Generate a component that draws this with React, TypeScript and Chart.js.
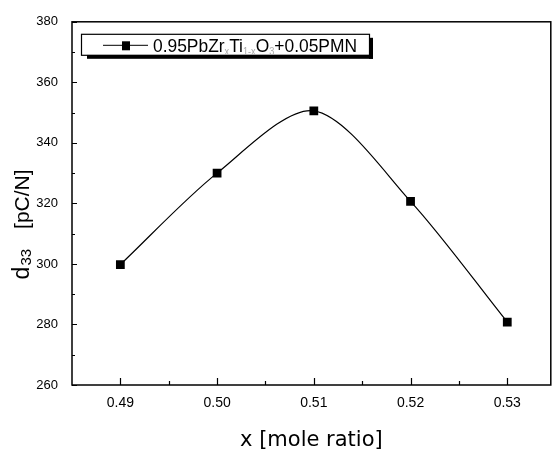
import React, { useEffect, useRef } from "react";
import { Chart, registerables } from "chart.js";

Chart.register(...registerables);

// ---- data ----
const xValues = [0.49, 0.5, 0.51, 0.52, 0.53];
const d33Values = [299.8, 330, 350.6, 320.7, 280.8];
const xTickValues = [0.49, 0.5, 0.51, 0.52, 0.53];
const xMinorTicks = [0.495, 0.505, 0.515, 0.525];
const yTickValues = [260, 280, 300, 320, 340, 360, 380];
const yMinorTicks = [270, 290, 310, 330, 350, 370];
const legendParts = [
  { t: "0.95PbZr", sub: false },
  { t: "x", sub: true },
  { t: "Ti", sub: false },
  { t: "1-x", sub: true },
  { t: "O", sub: false },
  { t: "3", sub: true },
  { t: "+0.05PMN", sub: false },
];
const xTitle = "x [mole ratio]";
const yTitleMain = "d";
const yTitleSub = "33";
const yTitleUnit = "[pC/N]";

const NARROW = "'Liberation Sans Narrow', 'Liberation Sans', Arial, sans-serif";
const SANS = "'Liberation Sans', Arial, sans-serif";

const framePlugin = {
  id: "frameAndLegend",
  afterDraw(chart: any) {
    const { ctx, chartArea, scales } = chart;
    const { left, right, top, bottom } = chartArea;
    const xs = scales.x;
    const ys = scales.y;
    ctx.save();
    ctx.strokeStyle = "#000";
    ctx.lineWidth = 1.5;
    ctx.strokeRect(left, top, right - left, bottom - top);

    ctx.lineWidth = 1.2;
    ctx.beginPath();
    xTickValues.forEach((v) => {
      const px = Math.round(xs.getPixelForValue(v)) + 0.5;
      ctx.moveTo(px, bottom);
      ctx.lineTo(px, bottom - 7);
    });
    xMinorTicks.forEach((v) => {
      const px = Math.round(xs.getPixelForValue(v)) + 0.5;
      ctx.moveTo(px, bottom);
      ctx.lineTo(px, bottom - 4);
    });
    yTickValues.forEach((v) => {
      const py = Math.round(ys.getPixelForValue(v)) + 0.5;
      ctx.moveTo(left, py);
      ctx.lineTo(left + 5, py);
    });
    yMinorTicks.forEach((v) => {
      const py = Math.round(ys.getPixelForValue(v)) + 0.5;
      ctx.moveTo(left, py);
      ctx.lineTo(left + 3, py);
    });
    ctx.stroke();

    // y-axis title with subscript
    ctx.save();
    const midY = (top + bottom) / 2;
    ctx.translate(29, midY + 76);
    ctx.rotate(-Math.PI / 2);
    ctx.fillStyle = "#000";
    ctx.textBaseline = "alphabetic";
    ctx.font = "23px " + SANS;
    ctx.fillText(yTitleMain, 0, 0);
    const wd = ctx.measureText(yTitleMain).width;
    ctx.font = "15px " + SANS;
    ctx.fillText(yTitleSub, wd + 1, 2);
    ctx.font = "21px " + SANS;
    const wu = ctx.measureText(yTitleUnit).width;
    ctx.fillText(yTitleUnit, 110 - wu, 0);
    ctx.restore();

    // legend box
    const bx = left + 9;
    const by = top + 12;
    const bw = 288;
    const bh = 21;
    ctx.fillStyle = "#000";
    ctx.fillRect(bx + 6, by + bh, bw - 2, 4);
    ctx.fillRect(bx + bw, by + 4, 4, bh);
    ctx.fillStyle = "#fff";
    ctx.fillRect(bx, by, bw, bh);
    ctx.lineWidth = 1.2;
    ctx.strokeRect(bx + 0.5, by + 0.5, bw, bh);

    const cy = by + bh / 2 + 1;
    ctx.beginPath();
    ctx.moveTo(bx + 22, cy);
    ctx.lineTo(bx + 67, cy);
    ctx.lineWidth = 1;
    ctx.stroke();
    ctx.fillStyle = "#000";
    ctx.fillRect(bx + 41, cy - 4, 8, 9);

    // legend text with subscripts, fitted into its span
    const mainFont = "19px " + NARROW;
    const subFont = "10px " + NARROW;
    let total = 0;
    legendParts.forEach((p) => {
      ctx.font = p.sub ? subFont : mainFont;
      total += ctx.measureText(p.t).width;
    });
    const tx0 = bx + 72;
    const targetW = 204;
    const sx = targetW / total;
    ctx.save();
    ctx.translate(tx0, cy + 7);
    ctx.scale(sx, 1);
    ctx.textBaseline = "alphabetic";
    let cx = 0;
    legendParts.forEach((p) => {
      ctx.font = p.sub ? subFont : mainFont;
      ctx.fillStyle = p.sub ? "#aaa" : "#000";
      ctx.fillText(p.t, cx, p.sub ? 3 : 0);
      cx += ctx.measureText(p.t).width;
    });
    ctx.restore();
    ctx.restore();
  },
};

export default function App() {
  const canvasRef = useRef<HTMLCanvasElement | null>(null);

  useEffect(() => {
    if (!canvasRef.current) return;
    const chart = new Chart(canvasRef.current, {
      type: "line",
      data: {
        datasets: [
          {
            label: "0.95PbZrxTi1-xO3+0.05PMN",
            data: xValues.map((x, i) => ({ x, y: d33Values[i] })),
            borderColor: "#000",
            backgroundColor: "#000",
            borderWidth: 1.2,
            tension: 0.3,
            pointStyle: "rect",
            pointRadius: 6.2,
            pointBorderWidth: 0,
            fill: false,
          },
        ],
      },
      options: {
        responsive: false,
        animation: false,
        layout: { padding: { top: 14, right: 4, left: 0, bottom: 0 } },
        plugins: { legend: { display: false }, tooltip: { enabled: false } },
        scales: {
          x: {
            type: "linear",
            min: 0.485,
            max: 0.5345,
            afterBuildTicks: (scale: any) => {
              scale.ticks = xTickValues.map((v) => ({ value: v }));
            },
            afterFit: (scale: any) => {
              scale.height = 66;
            },
            grid: { display: false, drawTicks: false },
            border: { display: false },
            ticks: {
              color: "#000",
              padding: 10,
              maxRotation: 0,
              font: { family: NARROW, size: 14 },
              callback: (v: any) => Number(v).toFixed(2),
            },
            title: {
              display: true,
              text: xTitle,
              color: "#000",
              font: { family: "'DejaVu Sans', sans-serif", size: 21, lineHeight: 1 },
              padding: { top: 1, bottom: 0 },
            },
          },
          y: {
            type: "linear",
            min: 260,
            max: 380,
            afterBuildTicks: (scale: any) => {
              scale.ticks = yTickValues.map((v) => ({ value: v }));
            },
            afterFit: (scale: any) => {
              scale.width = 72;
            },
            grid: { display: false, drawTicks: false },
            border: { display: false },
            ticks: {
              color: "#000",
              padding: 14,
              font: { family: NARROW, size: 13 },
            },
            title: { display: false },
          },
        },
      },
      plugins: [framePlugin],
    });
    return () => chart.destroy();
  }, []);

  return (
    <div style={{ position: "absolute", left: 0, top: 0, width: 557, height: 451, background: "#fff" }}>
      <canvas ref={canvasRef} width={557} height={451} style={{ display: "block" }} />
    </div>
  );
}
